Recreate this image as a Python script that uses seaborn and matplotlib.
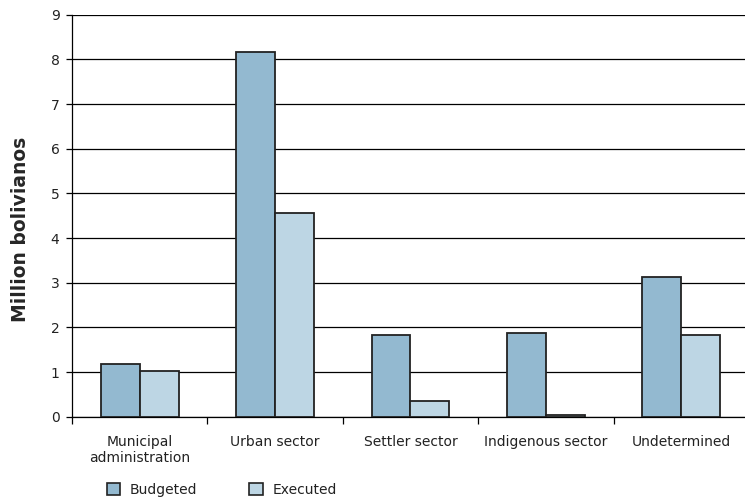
import matplotlib
matplotlib.use("Agg")
import matplotlib.pyplot as plt
import seaborn as sns
import pandas as pd
from matplotlib.patches import Patch

categories = ["Municipal\nadministration", "Urban sector", "Settler sector",
              "Indigenous sector", "Undetermined"]
budgeted = [1.17, 8.17, 1.83, 1.88, 3.13]
executed = [1.03, 4.55, 0.36, 0.03, 1.83]
series = ["Budgeted", "Executed"]
colors = ["#93B9D0", "#BDD6E4"]

df = pd.DataFrame({
    "Category": categories * 2,
    "Value": budgeted + executed,
    "Series": [series[0]] * len(categories) + [series[1]] * len(categories),
})

sns.set_style("white")
plt.rcParams["font.family"] = ["DejaVu Sans"]

fig = plt.figure(figsize=(7.45, 4.99), dpi=100)
ax = fig.add_axes([72 / 745, 1 - 416.7 / 499, (749 - 72) / 745, (416.7 - 14.7) / 499])

sns.barplot(data=df, x="Category", y="Value", hue="Series", order=categories,
            hue_order=series, palette=colors, saturation=1, width=0.575, gap=0,
            edgecolor="#222222", linewidth=1.3, ax=ax, legend=False, zorder=3)

ax.set_ylim(0, 9)
ax.set_xlim(-0.5, 4.5)
ax.set_yticks(range(0, 10))
ax.yaxis.grid(True, color="black", linewidth=0.9, zorder=0)
ax.set_axisbelow(True)
for s in ["top", "right"]:
    ax.spines[s].set_visible(False)
ax.spines["left"].set_color("black")
ax.spines["bottom"].set_color("black")
ax.spines["left"].set_linewidth(0.9)
ax.spines["bottom"].set_linewidth(0.9)

ax.tick_params(axis="y", which="major", direction="out", length=4, width=0.9,
               color="black", labelsize=10, labelcolor="#222222", left=True, pad=5)
ax.tick_params(axis="x", which="major", length=0, labelsize=10, labelcolor="#222222", pad=13)
ax.set_xticks([i + 0.5 for i in range(-1, 5)], minor=True)
ax.tick_params(axis="x", which="minor", direction="out", length=5, width=0.9,
               color="black", bottom=True)

ax.set_xlabel("")
ax.set_ylabel("Million bolivianos", fontsize=13.5, fontweight="bold", va="center")
ax.yaxis.set_label_coords(-(72 - 20) / 677, 0.466)

handles = [Patch(facecolor=c, edgecolor="#222222", linewidth=1.2, label=l)
           for c, l in zip(colors, series)]
fig.legend(handles=handles, loc="center left", bbox_to_anchor=(94 / 745, 1 - 490 / 499),
           ncol=2, frameon=False, fontsize=10, handlelength=1.0, handleheight=1.0,
           columnspacing=3.7, handletextpad=0.7, labelcolor="#222222")

fig.savefig("out.png", dpi=100)
